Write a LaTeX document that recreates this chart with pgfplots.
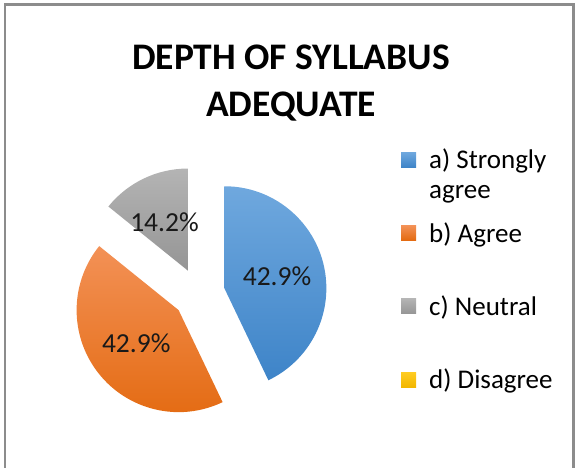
\documentclass[border=0pt]{standalone}
\usepackage{fontspec}
\setmainfont{Carlito}
\usepackage{pgfplots}
\usepackage{pgfplotstable}
\pgfplotsset{compat=1.18}

% slice colours: top / bottom of the gradient
\definecolor{s0t}{HTML}{6FA8DE}\definecolor{s0b}{HTML}{3E84C8}
\definecolor{s1t}{HTML}{F39156}\definecolor{s1b}{HTML}{E3690F}
\definecolor{s2t}{HTML}{B4B4B4}\definecolor{s2b}{HTML}{959595}
\definecolor{s3t}{HTML}{FFCC22}\definecolor{s3b}{HTML}{F2B700}
\definecolor{frame}{HTML}{8C8C8C}

\pgfplotstableread{
label value
a 42.9
b 42.9
c 14.2
d 0
}\piedata

\begin{document}
\begin{tikzpicture}
\begin{axis}[
  x=1pt, y=1pt,
  xmin=0, xmax=576, ymin=0, ymax=468,
  scale only axis, hide axis, clip=false,
  at={(0pt,0pt)}, anchor=south west,
  legend image code/.code={%
    \path[#1, draw=none] (0pt,-7.5pt) rectangle (15pt,7.5pt);},
  legend style={at={(axis cs:401,321)}, anchor=north west, draw=none, fill=none,
    font=\fontsize{27}{32}\selectfont, row sep=48pt, column sep=11pt,
    cells={anchor=west}, inner sep=0pt},
]
\def\cx{199}\def\cy{174}\def\rad{102}\def\expl{26}\def\lab{80}
\def\cum{0}
\pgfplotsforeachungrouped \i in {0,1,2,3}{
  \pgfplotstablegetelem{\i}{value}\of\piedata
  \let\val\pgfplotsretval
  \pgfmathsetmacro{\aS}{90-3.6*\cum}
  \pgfmathsetmacro{\aE}{90-3.6*(\cum+\val)}
  \pgfmathsetmacro{\aM}{(\aS+\aE)/2}
  \pgfmathsetmacro{\cum}{\cum+\val}
  \ifdim \val pt>0pt
    \edef\temp{%
      \noexpand\path[top color=s\i t, bottom color=s\i b]
        ([shift={(\aM:\expl pt)}]axis cs:\cx,\cy) -- +(\aS:\rad pt)
        arc[start angle=\aS, end angle=\aE, radius=\rad pt] -- cycle;
      \noexpand\node[font=\noexpand\fontsize{27.5}{32}\noexpand\selectfont, text=black!90]
        at ([shift={(\aM:\lab pt)}]axis cs:\cx,\cy) {\val\noexpand\%};
    }%
    \temp
  \fi
}
\addlegendimage{top color=s0t, bottom color=s0b}
\addlegendentry{\smash{\rlap{\raisebox{-30pt}{agree}}}a) Strongly}
\addlegendimage{top color=s1t, bottom color=s1b}
\addlegendentry{b) Agree}
\addlegendimage{top color=s2t, bottom color=s2b}
\addlegendentry{c) Neutral}
\addlegendimage{top color=s3t, bottom color=s3b}
\addlegendentry{d) Disagree}
\node[font=\bfseries\fontsize{37.5}{47}\selectfont, align=center, anchor=base]
  at (axis cs:291,351) {DEPTH OF SYLLABUS\\ADEQUATE};
\end{axis}
\draw[frame, line width=2.5pt] (5pt,0pt) -- (5pt,463.5pt) -- (573.5pt,463.5pt) -- (573.5pt,0pt);
\pgfresetboundingbox
\path[use as bounding box] (0pt,0pt) rectangle (576pt,468pt);
\end{tikzpicture}
\end{document}
